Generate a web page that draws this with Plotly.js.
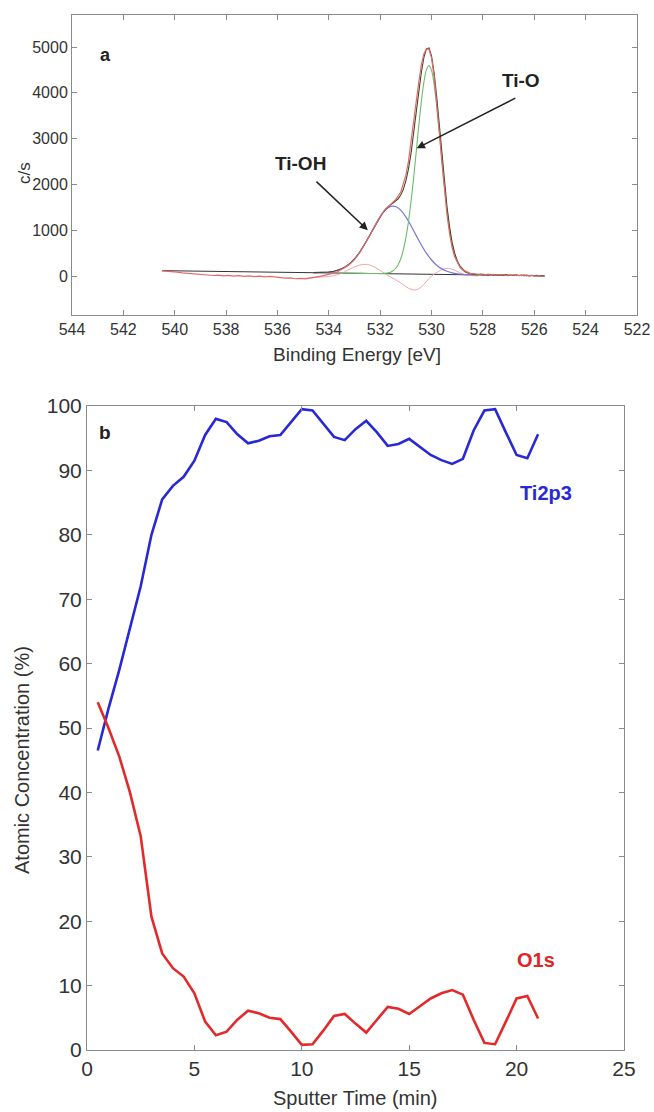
<!DOCTYPE html>
<html>
<head>
<meta charset="utf-8">
<script src="https://cdn.plot.ly/plotly-3.0.1.min.js"></script>
<style>html,body{margin:0;padding:0;background:#fff;}#chart{width:654px;height:1112px;}</style>
</head>
<body>
<div id="chart"></div>
<script>
// ---------- Panel a: XPS O1s spectrum ----------
const beBackground = [540.5, 525.6];
const background = [118, 5];

const beFit = [534.6,534.4,534.2,534.0,533.8,533.6,533.4,533.2,533.0,532.8,532.6,532.4,532.3,532.2,532.1,532.0,531.9,531.8,531.7,531.6,531.5,531.4,531.3,531.2,531.1,531.0,530.9,530.8,530.7,530.6,530.5,530.4,530.3,530.2,530.1,530.0,529.9,529.8,529.7,529.6,529.5,529.4,529.3,529.2,529.1,529.0,528.9,528.8,528.7,528.6,528.5,528.4,
  528.3,528.2,528.1,528.0,527.9,527.8,527.7,527.6,527.5,527.4,527.3,527.2,527.1,527.0,526.9,526.8,526.7,526.6,526.5,526.4,526.3,526.2,526.1,526.0,525.9,525.8,525.7,525.6];
const fitCounts = [75,76,80,88,105,136,185,263,373,519,699,902,1006,1110,1209,1300,1382,1452,1509,1555,1595,1635,1688,1769,1893,2077,2336,2675,3082,3539,4006,4434,4769,4961,4980,4804,4436,3917,3308,2673,2063,1524,1079,734,500,336,224,150,100,70,52,40,
  38,30,42,26,35,20,38,22,30,14,28,18,32,10,24,14,26,6,20,10,22,4,16,2,14,-2,8,0];

const beRaw = [540.5,540.3,540.1,539.9,539.7,539.5,539.3,539.1,538.9,538.7,538.5,538.3,538.1,537.9,537.7,537.5,537.3,537.1,536.9,536.7,536.5,536.3,536.1,535.9,535.7,535.5,535.3,535.1,534.9,534.7,534.5,534.3,534.1,533.9,533.7,
  533.5,533.4,533.2,533.0,532.8,532.6,532.4,532.2,532.0,531.8,531.6,531.4,531.2,531.0,530.9,530.8,530.7,530.6,530.5,530.4,530.3,530.2,530.1,530.0,529.9,529.8,529.7,529.6,529.5,529.4,529.3,529.2,529.1,529.0,528.9,528.8,528.7,528.6,528.5,528.4,
  528.3,528.2,528.1,528.0,527.9,527.8,527.7,527.6,527.5,527.4,527.3,527.2,527.1,527.0,526.9,526.8,526.7,526.6,526.5,526.4,526.3,526.2,526.1,526.0,525.9,525.8,525.7,525.6];
const rawCounts = [112,108,100,88,70,62,45,38,25,30,12,22,6,15,0,10,-8,4,-12,-2,-18,-8,-25,-30,-45,-38,-58,-50,-62,-40,-25,0,25,55,80,
  150,175,250,360,510,690,890,1100,1300,1460,1575,1670,1830,2200,2500,2900,3350,3800,4220,4600,4850,4960,4950,4760,4360,3800,3150,2500,1880,1350,930,620,420,290,200,140,110,80,60,55,
  48,52,34,45,28,40,25,36,18,30,22,34,12,26,16,28,8,22,12,24,4,18,8,14,0,10,-4,6];

const beTiO = [533.6,533.0,532.5,532.0,531.9,531.8,531.7,531.6,531.5,531.4,531.3,531.2,531.1,531.0,530.9,530.8,530.7,530.6,530.5,530.4,530.3,530.2,530.1,530.0,529.9,529.8,529.7,529.6,529.5,529.4,529.3,529.2,529.1,529.0,528.9,528.8,528.7,528.6,528.5,528.4,528.3,528.2,528.1,528.0];
const tiO = [66,61,57,55,57,61,69,85,115,165,248,378,567,832,1182,1619,2132,2694,3265,3793,4222,4502,4599,4492,4184,3717,3151,2551,1970,1454,1027,696,472,316,210,140,94,66,49,38,32,28,25,23];

const beTiOH = [534.6,534.4,534.2,534.0,533.8,533.6,533.4,533.2,533.0,532.8,532.6,532.4,532.2,532.0,531.8,531.6,531.4,531.2,531.0,530.8,530.6,530.4,530.2,530.0,529.8,529.6,529.4,529.2,529.0,528.8,528.6,528.4,528.2];
const tiOH = [75,76,80,88,105,136,185,263,373,519,699,902,1109,1299,1443,1521,1519,1439,1291,1099,888,683,499,351,237,157,104,71,50,39,32,28,25];

const beResidual = [535.0,534.6,534.3,534.0,533.8,533.6,533.4,533.2,533.0,532.8,532.6,532.4,532.2,532.0,531.8,531.6,531.4,531.2,531.0,530.8,530.6,530.4,530.2,530.0,529.8,529.6,529.4,529.2,529.0,528.8,528.6,528.4,528.2];
const residual = [-50,-35,-20,-10,10,40,90,150,200,240,255,240,190,120,50,-20,-80,-150,-230,-290,-300,-240,-120,0,80,140,170,150,100,50,20,10,0];

const beTicks = [544,542,540,538,536,534,532,530,528,526,524,522];
const cpsTicks = [0,1000,2000,3000,4000,5000];

// ---------- Panel b: depth profile ----------
const sputterTime = [0.5,1,1.5,2,2.5,3,3.5,4,4.5,5,5.5,6,6.5,7,7.5,8,8.5,9,9.5,10,10.5,11,11.5,12,12.5,13,13.5,14,14.5,15,15.5,16,16.5,17,17.5,18,18.5,19,19.5,20,20.5,21];
const ti2p3 = [46.5,53,59,65.5,72,80,85.5,87.6,89,91.5,95.5,98,97.5,95.6,94.2,94.6,95.3,95.5,97.5,99.5,99.3,97.3,95.2,94.7,96.4,97.7,95.9,93.8,94.1,94.9,93.6,92.4,91.6,91,91.8,96.2,99.3,99.5,95.9,92.4,91.9,95.6];
const o1s = [54,50,45.6,40,33.2,20.7,15,12.7,11.4,8.8,4.4,2.3,2.85,4.7,6.1,5.7,5.0,4.8,2.85,0.8,0.9,3.0,5.3,5.6,4.1,2.7,4.7,6.7,6.4,5.6,6.8,8.0,8.8,9.3,8.6,4.7,1.1,0.9,4.4,8.0,8.4,4.9];

const FONT = 'Liberation Sans, Arial, sans-serif';
const AX = '#8a8a8a';

const traces = [
  {x: beBackground, y: background, xaxis:'x', yaxis:'y', mode:'lines', line:{color:'#333333', width:1}},
  {x: beResidual, y: residual, xaxis:'x', yaxis:'y', mode:'lines', line:{color:'#f2a6a6', width:1, shape:'spline'}},
  {x: beTiOH, y: tiOH, xaxis:'x', yaxis:'y', mode:'lines', line:{color:'#7575dc', width:1.2, shape:'spline'}},
  {x: beTiO, y: tiO, xaxis:'x', yaxis:'y', mode:'lines', line:{color:'#6cbc6c', width:1.1, shape:'spline'}},
  {x: beFit, y: fitCounts, xaxis:'x', yaxis:'y', mode:'lines', line:{color:'#45452a', width:1.1}},
  {x: beRaw, y: rawCounts, xaxis:'x', yaxis:'y', mode:'lines', line:{color:'#e06a6a', width:1.2}},
  {x: sputterTime, y: ti2p3, xaxis:'x2', yaxis:'y2', mode:'lines', line:{color:'#2828d4', width:2.6}},
  {x: sputterTime, y: o1s, xaxis:'x2', yaxis:'y2', mode:'lines', line:{color:'#e32a2a', width:2.6}}
];

const axBase = {
  showline:true, mirror:'ticks', linecolor:AX, linewidth:1,
  ticks:'inside', ticklen:5, tickcolor:AX, tickwidth:1,
  showgrid:false, zeroline:false, fixedrange:true
};

const layout = {
  width:654, height:1112,
  margin:{l:0, r:0, t:0, b:0},
  paper_bgcolor:'#ffffff', plot_bgcolor:'#ffffff',
  showlegend:false,
  font:{family:FONT, color:'#333333'},
  xaxis: Object.assign({}, axBase, {domain:[72/654, 637/654], anchor:'y', range:[544,522], tickmode:'array', tickvals:beTicks, ticktext:beTicks.map(String), tickfont:{size:16, color:'#333'}}),
  yaxis: Object.assign({}, axBase, {domain:[(1112-315)/1112, (1112-15)/1112], anchor:'x', range:[-850,5700], tickmode:'array', tickvals:cpsTicks, ticktext:cpsTicks.map(String), tickfont:{size:16, color:'#333'}}),
  xaxis2: Object.assign({}, axBase, {domain:[87/654, 624/654], anchor:'y2', range:[0,25], tickmode:'linear', tick0:0, dtick:5, tickfont:{size:21, color:'#333'}}),
  yaxis2: Object.assign({}, axBase, {domain:[(1112-1050)/1112, (1112-406)/1112], anchor:'x2', range:[0,100], tickmode:'linear', tick0:0, dtick:10, tickfont:{size:21, color:'#333'}}),
  annotations: [
    {xref:'paper', yref:'paper', x:24/654, y:(1112-173)/1112, text:'c/s', textangle:-90, showarrow:false, font:{size:17, color:'#333'}, xanchor:'center', yanchor:'middle'},
    {xref:'paper', yref:'paper', x:357/654, y:(1112-354)/1112, text:'Binding Energy [eV]', showarrow:false, font:{size:19, color:'#333'}, xanchor:'center', yanchor:'middle'},
    {xref:'paper', yref:'paper', x:22/654, y:(1112-760)/1112, text:'Atomic Concentration (%)', textangle:-90, showarrow:false, font:{size:20, color:'#333'}, xanchor:'center', yanchor:'middle'},
    {xref:'paper', yref:'paper', x:355/654, y:(1112-1098)/1112, text:'Sputter Time (min)', showarrow:false, font:{size:20, color:'#333'}, xanchor:'center', yanchor:'middle'},
    {xref:'paper', yref:'paper', x:105/654, y:(1112-55)/1112, text:'<b>a</b>', showarrow:false, font:{size:18, color:'#222'}, xanchor:'center', yanchor:'middle'},
    {xref:'paper', yref:'paper', x:105/654, y:(1112-432)/1112, text:'<b>b</b>', showarrow:false, font:{size:19, color:'#222'}, xanchor:'center', yanchor:'middle'},
    {xref:'x', yref:'y', x:535.09, y:2462, text:'<b>Ti-OH</b>', showarrow:false, font:{size:19, color:'#222'}, xanchor:'center', yanchor:'middle'},
    {xref:'x', yref:'y', x:526.53, y:4270, text:'<b>Ti-O</b>', showarrow:false, font:{size:19, color:'#222'}, xanchor:'center', yanchor:'middle'},
    {xref:'x', yref:'y', x:532.48, y:1002, ax:534.54, ay:2092, axref:'x', ayref:'y', text:'', showarrow:true, arrowhead:2, arrowsize:1.1, arrowwidth:1.5, arrowcolor:'#222'},
    {xref:'x', yref:'y', x:530.58, y:2789, ax:526.68, ay:3900, axref:'x', ayref:'y', text:'', showarrow:true, arrowhead:2, arrowsize:1.1, arrowwidth:1.5, arrowcolor:'#222'},
    {xref:'x2', yref:'y2', x:21.35, y:86.5, text:'<b>Ti2p3</b>', showarrow:false, font:{size:20, color:'#2a2ad0'}, xanchor:'center', yanchor:'middle'},
    {xref:'x2', yref:'y2', x:20.9, y:14.0, text:'<b>O1s</b>', showarrow:false, font:{size:20, color:'#e02525'}, xanchor:'center', yanchor:'middle'}
  ]
};

Plotly.newPlot('chart', traces, layout, {staticPlot:true, displayModeBar:false});
</script>
</body>
</html>
